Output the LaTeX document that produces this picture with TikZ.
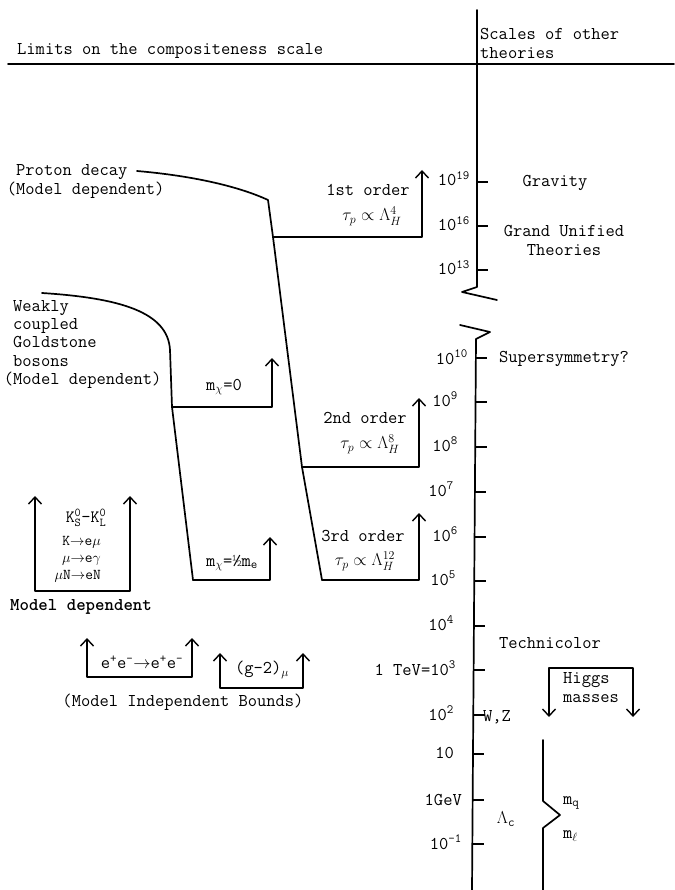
\documentclass[tikz,border=0pt]{standalone}
\usepackage{amsmath,amssymb}
\usepackage{tikz}
\usetikzlibrary{arrows.meta}

\begin{document}
\begin{tikzpicture}[
    x=1pt, y=-1pt,
    txt/.style={font=\fontsize{18}{19}\selectfont\ttfamily, inner sep=0pt, align=center},
    small/.style={font=\fontsize{15}{17}\selectfont\ttfamily, inner sep=0pt, align=right},
    line/.style={line width=1.7pt, line cap=round, line join=round},
    up/.style={line, -{Straight Barb[length=7pt, width=13pt, line width=1.4pt]}},
    both/.style={line, {Straight Barb[length=7pt, width=13pt, line width=1.4pt]}-{Straight Barb[length=7pt, width=13pt, line width=1.4pt]}},
    axtick/.style={line width=1.7pt}
]
\useasboundingbox (0,0) rectangle (674,890);

% header
\node[txt, anchor=base west] (title) at (17,55) {Limits on the compositeness scale};
\node[txt, anchor=base west] (other) at (480,40) {Scales of other};
\node[txt, anchor=base west] (other2) at (480,59) {theories};
\coordinate (hdl) at (8,64);
\coordinate (hdr) at (674,64);
\draw[line] (hdl) -- (hdr);

% energy axis with break
\coordinate (axtop) at (477,10);
\coordinate (brkA) at (477,287);
\coordinate (brkB) at (462,292);
\coordinate (brkC) at (497,300);
\coordinate (brkD) at (460,325);
\coordinate (brkE) at (490,332);
\coordinate (brkF) at (476,339);
\coordinate (axbot) at (472,890);
\draw[line] (axtop) -- (brkA) -- (brkB) -- (brkC);
\draw[line] (brkD) -- (brkE) -- (brkF) -- (axbot);

\draw[axtick] (477,182) -- ++(11,0);
\draw[axtick] (477,226) -- ++(11,0);
\draw[axtick] (477,270) -- ++(11,0);
\draw[axtick] (476,358) -- ++(11,0);
\draw[axtick] (476,402) -- ++(11,0);
\draw[axtick] (475.5,447) -- ++(11,0);
\draw[axtick] (475,492) -- ++(11,0);
\draw[axtick] (475,537) -- ++(11,0);
\draw[axtick] (474.5,581) -- ++(11,0);
\draw[axtick] (474,626) -- ++(11,0);
\draw[axtick] (474,670) -- ++(11,0);
\draw[axtick] (473.5,715) -- ++(11,0);
\draw[axtick] (473,754) -- ++(11,0);
\draw[axtick] (473,800) -- ++(11,0);
\draw[axtick] (472.5,844) -- ++(11,0);

\node[txt, anchor=base east] (e19) at (470,186) {10\textsuperscript{19}};
\node[txt, anchor=base east] (e16) at (470,231) {10\textsuperscript{16}};
\node[txt, anchor=base east] (e13) at (470,275) {10\textsuperscript{13}};
\node[txt, anchor=base east] (e10) at (468,364) {10\textsuperscript{10}};
\node[txt, anchor=base east] (e9) at (458,406) {10\textsuperscript{9}};
\node[txt, anchor=base east] (e8) at (458,451) {10\textsuperscript{8}};
\node[txt, anchor=base east] (e7) at (454,496) {10\textsuperscript{7}};
\node[txt, anchor=base east] (e6) at (458,541) {10\textsuperscript{6}};
\node[txt, anchor=base east] (e5) at (456,585) {10\textsuperscript{5}};
\node[txt, anchor=base east] (e4) at (454,630) {10\textsuperscript{4}};
\node[txt, anchor=base east] (e3) at (456,675) {1 TeV=10\textsuperscript{3}};
\node[txt, anchor=base east] (e2) at (454,720) {10\textsuperscript{2}};
\node[txt, anchor=base east] (e1) at (454,758) {10};
\node[txt, anchor=base east] (gev) at (462,805) {1GeV};
\node[txt, anchor=base east] (em1) at (462,849) {10\textsuperscript{-1}};

% other theories
\node[txt] (grav) at (555,183) {Gravity};
\node[txt] (gut) at (564,240) {Grand Unified\\Theories};
\node[txt, anchor=west] (susy) at (499,359) {Supersymmetry?};
\node[txt] (techni) at (550,643) {Technicolor};
\node[txt, anchor=west] (wz) at (483,717) {W,Z};
\node[txt] (lamc) at (506,819) {$\Lambda$\textsubscript{c}};

\coordinate (hgl) at (549,717);
\coordinate (hgtl) at (549,668);
\coordinate (hgtr) at (633,668);
\coordinate (hgr) at (633,717);
\draw[both] (hgl) -- (hgtl) -- (hgtr) -- (hgr);
\node[txt, anchor=north west, align=left] (higgs) at (563,672) {Higgs\\masses};

\coordinate (brtop) at (543,740);
\coordinate (brk1) at (543,801);
\coordinate (brtip) at (560,815);
\coordinate (brk2) at (543,828);
\coordinate (brbot) at (543,890);
\draw[line] (brtop) -- (brk1) -- (brtip) -- (brk2) -- (brbot);
\node[txt, anchor=west] (mq) at (563,803) {m\textsubscript{q}};
\node[txt, anchor=west] (ml) at (563,836) {m\textsubscript{$\ell$}};

% proton decay
\node[txt, anchor=north west, align=left] (proton) at (16,164) {Proton decay\\\llap{(}Model dependent)};
\coordinate (pd0) at (137,171);
\coordinate (pd1) at (268,200);
\coordinate (o1) at (273,237);
\coordinate (o1r) at (422,237);
\coordinate (o1t) at (422,170);
\coordinate (o2) at (302,467);
\coordinate (o2r) at (419,467);
\coordinate (o2t) at (419,398);
\coordinate (o3) at (322,580);
\coordinate (o3r) at (419,580);
\coordinate (o3t) at (419,513);
\draw[line] (pd0) .. controls (195,176) and (240,187) .. (pd1) -- (o1) -- (o2) -- (o3);
\draw[up] (o1) -- (o1r) -- (o1t);
\draw[up] (o2) -- (o2r) -- (o2t);
\draw[up] (o3) -- (o3r) -- (o3t);
\node[txt] (first) at (368,190) {1st order};
\node[txt] (firstlaw) at (372,216) {$\tau_p\propto\Lambda_H^4$};
\node[txt] (second) at (365,418) {2nd order};
\node[txt] (secondlaw) at (370,444) {$\tau_p\propto\Lambda_H^8$};
\node[txt] (third) at (363,536) {3rd order};
\node[txt] (thirdlaw) at (365,561) {$\tau_p\propto\Lambda_H^{12}$};

% goldstone bosons
\node[txt, anchor=north west, align=left, font=\fontsize{18}{18.3}\selectfont\ttfamily] (gold) at (13,300) {Weakly\\coupled\\Goldstone\\bosons\\\llap{(}Model dependent)};
\coordinate (gb0) at (42,293);
\coordinate (gb1) at (170,350);
\coordinate (gb2) at (172,407);
\coordinate (gb2r) at (272,407);
\coordinate (gb2t) at (272,358);
\coordinate (gb3) at (193,580);
\coordinate (gb3r) at (270,580);
\coordinate (gb3t) at (270,537);
\draw[line] (gb0) .. controls (120,298) and (168,312) .. (gb1) -- (gb2) -- (gb3);
\draw[up] (gb2) -- (gb2r) -- (gb2t);
\draw[up] (gb3) -- (gb3r) -- (gb3t);
\node[txt] (mzero) at (224,387) {m\textsubscript{$\chi$}=0};
\node[txt] (mhalf) at (232,563) {m\textsubscript{$\chi$}=½m\textsubscript{e}};

% rare decays
\coordinate (kl) at (35,496);
\coordinate (klb) at (35,591);
\coordinate (krb) at (130,591);
\coordinate (kr) at (130,496);
\draw[both] (kl) -- (klb) -- (krb) -- (kr);
\node[txt] (kk) at (86,518) {$\mathtt{K}_\mathtt{S}^\mathtt{0}$-$\mathtt{K}_\mathtt{L}^\mathtt{0}$};
\node[small, anchor=north east] (rare) at (101,536) {K$\to$e$\mu$\\$\mu$$\to$e$\gamma$\\$\mu$N$\to$eN};
\node[txt, anchor=north, font=\fontsize{18}{19}\selectfont\ttfamily\bfseries] (moddep) at (81,599) {Model dependent};

% model independent bounds
\coordinate (eel) at (87,638);
\coordinate (eelb) at (87,677);
\coordinate (eerb) at (192,677);
\coordinate (eer) at (192,638);
\draw[both] (eel) -- (eelb) -- (eerb) -- (eer);
\node[txt] (ee) at (142,662) {e\textsuperscript{+}e\textsuperscript{-}$\to$e\textsuperscript{+}e\textsuperscript{-}};
\coordinate (gml) at (220,653);
\coordinate (gmlb) at (220,688);
\coordinate (gmrb) at (303,688);
\coordinate (gmr) at (303,653);
\draw[both] (gml) -- (gmlb) -- (gmrb) -- (gmr);
\node[txt] (gm) at (262,670) {(g-2)\textsubscript{$\mu$}};
\node[txt] (indep) at (183,702) {(Model Independent Bounds)};
\end{tikzpicture}
\end{document}
